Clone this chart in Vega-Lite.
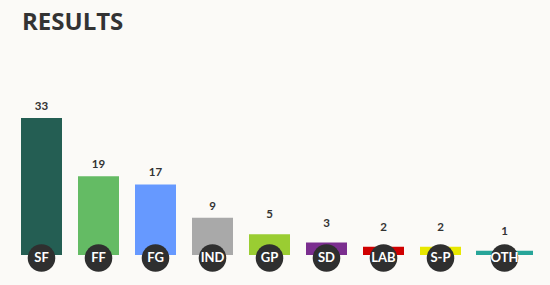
{
  "$schema": "https://vega.github.io/schema/vega-lite/v6.json",
  "autosize": "none",
  "width": 513,
  "height": 166,
  "padding": {"left": 13, "top": 89, "right": 24, "bottom": 30},
  "background": "#fbfaf7",
  "config": {"view": {"stroke": null}, "font": "Lato"},
  "title": {
    "text": "RESULTS",
    "anchor": "start",
    "frame": "group",
    "dx": 9,
    "offset": 54,
    "fontSize": 24,
    "fontWeight": "bold",
    "font": "Open Sans",
    "color": "#333333"
  },
  "data": {
    "values": [
      {"party": "SF", "seats": 33},
      {"party": "FF", "seats": 19},
      {"party": "FG", "seats": 17},
      {"party": "IND", "seats": 9},
      {"party": "GP", "seats": 5},
      {"party": "SD", "seats": 3},
      {"party": "LAB", "seats": 2},
      {"party": "S-P", "seats": 2},
      {"party": "OTH", "seats": 1}
    ]
  },
  "encoding": {
    "x": {
      "field": "party",
      "type": "nominal",
      "sort": null,
      "axis": null,
      "scale": {"paddingInner": 0.28, "paddingOuter": 0.14}
    }
  },
  "layer": [
    {
      "mark": {"type": "bar", "xOffset": {"expr": "datum.party === 'OTH' ? 7 : 0"}},
      "encoding": {
        "y": {"field": "seats", "type": "quantitative", "axis": null, "scale": {"domain": [0, 40]}},
        "size": {"condition": {"test": "datum.party === 'OTH'", "value": 57}, "value": 41},
        "color": {
          "field": "party",
          "type": "nominal",
          "legend": null,
          "scale": {
            "domain": ["SF", "FF", "FG", "IND", "GP", "SD", "LAB", "S-P", "OTH"],
            "range": ["#245e53", "#64bb64", "#6699ff", "#a9a9a9", "#9acd32", "#7b2e8f", "#d00000", "#e8e800", "#27a599"]
          }
        }
      }
    },
    {
      "mark": {"type": "text", "baseline": "alphabetic", "dy": {"expr": "datum.seats <= 5 ? -16 : -8"}, "fontSize": 11.5, "fontWeight": "bold", "color": "#333333", "xOffset": {"expr": "datum.party === 'OTH' ? 7 : 0"}},
      "encoding": {
        "y": {"field": "seats", "type": "quantitative"},
        "text": {"field": "seats", "type": "quantitative"}
      }
    },
    {
      "mark": {"type": "circle", "size": 760, "opacity": 1, "color": "#2f2f2f", "yOffset": 3, "xOffset": {"expr": "datum.party === 'OTH' ? 7 : 0"}},
      "encoding": {
        "y": {"datum": 0, "type": "quantitative"}
      }
    },
    {
      "mark": {"type": "text", "baseline": "middle", "yOffset": 3, "fontSize": 13, "fontWeight": "bold", "color": "#ffffff", "xOffset": {"expr": "datum.party === 'OTH' ? 7 : 0"}},
      "encoding": {
        "y": {"datum": 0, "type": "quantitative"},
        "text": {"field": "party", "type": "nominal"}
      }
    }
  ]
}
